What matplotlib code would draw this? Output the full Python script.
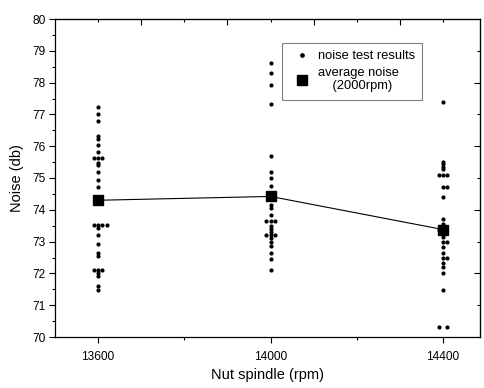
import numpy as np
import matplotlib
matplotlib.use("Agg")
import matplotlib.pyplot as plt
from matplotlib.lines import Line2D
from matplotlib.ticker import MultipleLocator, FixedLocator

plt.rcParams['font.family'] = ['Liberation Sans', 'DejaVu Sans']

# spindle speeds (rpm)
speeds = [13600, 14000, 14400]
avg_noise = [74.3, 74.42, 73.38]

# individual test results: (rpm, noise db); small rpm offsets where dots overlap
x13600 = [13600] * 24 + [13590, 13610, 13590, 13610, 13620, 13590, 13610]
y13600 = [77.24, 77.01, 76.80, 76.33, 76.23, 76.04, 75.81, 75.62, 75.48, 75.41,
          75.20, 74.94, 74.71, 73.52, 73.42, 73.21, 72.92, 72.63, 72.56, 72.11,
          72.00, 71.92, 71.60, 71.48,
          75.62, 75.62, 73.52, 73.52, 73.52, 72.11, 72.11]

x14000 = [14000] * 22 + [13990, 14010, 13990, 14010]
y14000 = [78.61, 78.31, 77.92, 77.33, 75.70, 75.19, 74.99, 74.75,
          74.15, 74.05, 73.85, 73.65, 73.50, 73.40, 73.30, 73.20, 73.10, 73.00,
          72.85, 72.65, 72.45, 72.10,
          73.65, 73.65, 73.20, 73.20]

x14400 = [14400] * 21 + [14390, 14410, 14410, 14390, 14410, 14410, 14390, 14410]
y14400 = [77.40, 75.51, 75.44, 75.36, 75.27, 75.09, 74.73, 74.41,
          73.70, 73.55, 73.45, 73.35, 73.15, 72.99, 72.84, 72.63, 72.47, 72.32,
          72.21, 72.00, 71.48,
          75.09, 75.09, 74.73, 73.35, 72.99, 72.47, 70.30, 70.30]

fig = plt.figure(figsize=(4.84, 3.88), dpi=100)
ax = fig.add_axes([55 / 484, 51 / 388, 425 / 484, 318 / 388])

for xs, ys in [(x13600, y13600), (x14000, y14000), (x14400, y14400)]:
    ax.plot(xs, ys, 'o', color='black', ms=3.0, mew=0, zorder=3)
ax.plot(speeds, avg_noise, '-', color='black', lw=0.8, zorder=2)
ax.plot(speeds, avg_noise, 's', color='black', ms=7, zorder=4)

ax.set_xlim(13500, 14486)
ax.set_ylim(70, 80)
ax.xaxis.set_major_locator(FixedLocator([13600, 14000, 14400]))
ax.xaxis.set_minor_locator(FixedLocator([13800, 14200]))
ax.yaxis.set_major_locator(MultipleLocator(1))
ax.yaxis.set_minor_locator(MultipleLocator(0.5))
ax.tick_params(which='major', direction='out', length=4, width=0.8, labelsize=8.6,
               colors='black', pad=3)
ax.tick_params(which='minor', direction='out', length=2.5, width=0.8)
ax.tick_params(axis='x', which='major', pad=6)

top = ax.secondary_xaxis('top')
top.xaxis.set_major_locator(FixedLocator(np.arange(13700, 14500, 200)))
top.xaxis.set_minor_locator(FixedLocator(np.arange(13600, 14500, 200)))
top.tick_params(which='major', direction='in', length=4, width=0.8, labeltop=False)
top.tick_params(which='minor', direction='in', length=2.5, width=0.8)

right = ax.secondary_yaxis('right')
right.yaxis.set_major_locator(FixedLocator([72, 74, 76, 78]))
right.yaxis.set_minor_locator(FixedLocator([71, 73, 75, 77, 79]))
right.tick_params(which='major', direction='in', length=4, width=0.8, labelright=False)
right.tick_params(which='minor', direction='in', length=2.5, width=0.8)

for s in ax.spines.values():
    s.set_linewidth(0.9)

ax.set_xlabel('Nut spindle (rpm)', fontsize=10.5, labelpad=4)
ax.set_ylabel('Noise (db)', fontsize=10.5, labelpad=6)

handles = [Line2D([], [], ls='none', marker='o', color='black', ms=3.4, mew=0),
           Line2D([], [], ls='none', marker='s', color='black', ms=7)]
leg = ax.legend(handles, ['noise test results', 'average noise\n    (2000rpm)'],
                loc='upper left', bbox_to_anchor=(0.534, 0.9245), fontsize=9.3,
                fancybox=False, frameon=True, edgecolor='#808080', framealpha=1,
                borderpad=0.55, labelspacing=0.35, handlelength=2.0,
                handletextpad=0.25, borderaxespad=0)
leg.get_frame().set_linewidth(0.8)

fig.savefig('out.png', dpi=100)
